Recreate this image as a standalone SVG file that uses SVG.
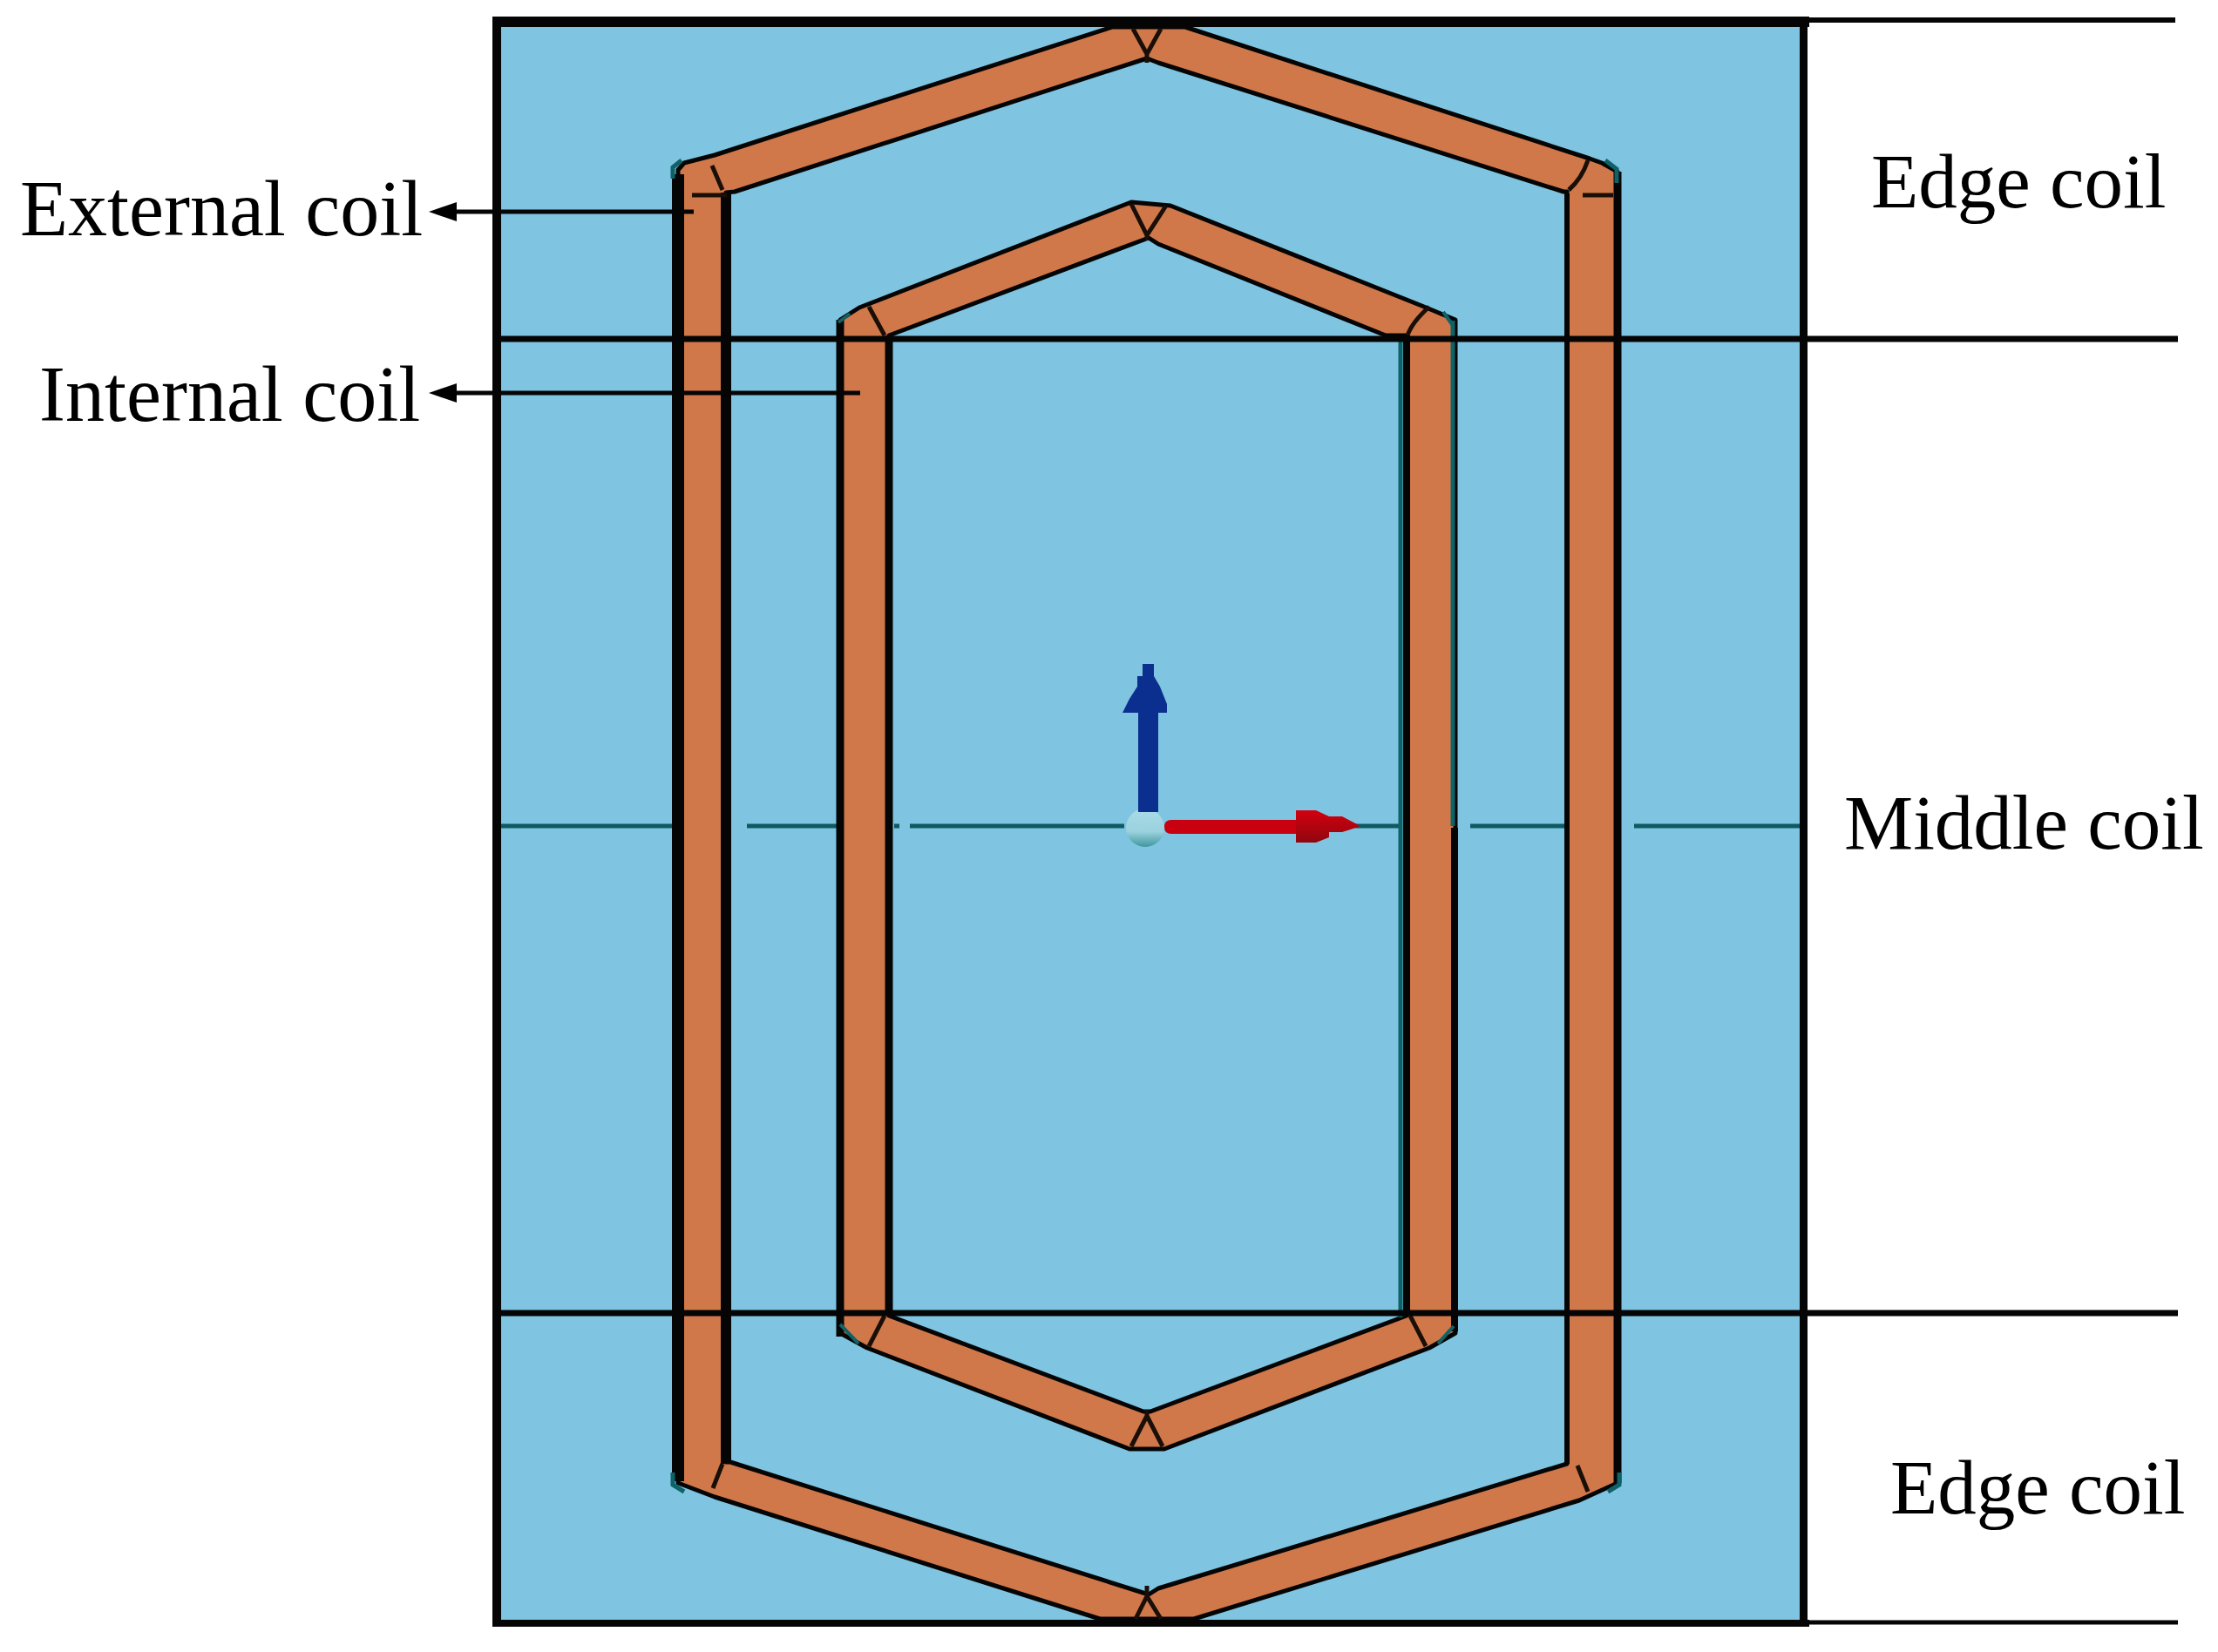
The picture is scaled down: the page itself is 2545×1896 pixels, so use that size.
<svg xmlns="http://www.w3.org/2000/svg" width="2545" height="1896" viewBox="0 0 2545 1896">
<style>
.t{font-family:"Liberation Serif","Times New Roman",serif;font-size:89px;fill:#000}
.tl{font-size:90px}
.ring{fill:#d0784a;fill-rule:evenodd;stroke:#050505;stroke-width:5;stroke-linejoin:round}
.k{stroke:#050505;fill:none;stroke-linecap:butt}
.j{stroke:#1a0f08;stroke-width:5;fill:none}
.teal{stroke:#0f6268;fill:none}
.cl{stroke:#0d5a60;stroke-width:5;fill:none}
</style>
<defs>
<marker id="ah" markerUnits="userSpaceOnUse" markerWidth="32" markerHeight="24" refX="0" refY="11" orient="auto"><path d="M0,0 L32,11 L0,22 Z" fill="#000"/></marker>
<linearGradient id="ball" x1="0" y1="0" x2="0" y2="1"><stop offset="0" stop-color="#a9dbe6"/><stop offset="0.6" stop-color="#9ad2de"/><stop offset="1" stop-color="#3f979d"/></linearGradient>
<linearGradient id="redhead" x1="0" y1="0" x2="0" y2="1"><stop offset="0" stop-color="#d3000f"/><stop offset="1" stop-color="#8f0710"/></linearGradient>
</defs>
<rect width="2545" height="1896" fill="#fff"/>
<g id="frame">
<rect x="570" y="25" width="1501" height="1838" fill="#7fc4e0"/>
<g id="center-line">
<path class="cl" d="M575,948H775M826,948H834M857,948H962M1026,948H1032M1044,948H1290M1555,948H1609M1687,948H1797M1875,948H2066"/>
</g>
</g>
<g id="external-coil">
<path class="ring" d="M778,195 L785,187 L820,178 L1276,31 L1360,31 L1824,182 L1838,187 L1856,197 L1856,1702 L1812,1722 L1370,1858 L1262,1858 L820,1718 L778,1702 Z M833,221 L843,220 L1316,67 L1329,72 L1794,220 L1798,220 L1798,1680 L1329,1823 L1318,1830 L838,1678 L833,1678 Z"/>
<path class="k" stroke-width="14" d="M778,200V1700"/>
<path class="k" stroke-width="12" d="M833,221V1680"/>
<path class="k" stroke-width="6" d="M1798,222V1680"/>
<path class="k" stroke-width="9" d="M1856,197V1702"/>
<path class="j" d="M817,190L829,218M1300,33L1316,62L1332,33M1316,62V72M794,224H834M1816,224H1851M1822,184Q1815,205 1800,218M1316,1832L1303,1858M1316,1832L1332,1858M1316,1820V1835M829,1680L818,1708M1810,1682L1822,1712"/>
<path class="teal" stroke-width="5" d="M772,205V192L782,184M1855,210V194L1842,184M772,1690V1704L785,1712M1858,1690V1704L1845,1712"/>
</g>
<g id="internal-coil">
<path class="ring" d="M964,367 L986,353 L1298,232 L1343,236 L1634,352 L1670,367 L1670,1530 L1640,1547 L1336,1663 L1296,1663 L995,1547 L964,1530 Z M1020,385 L1318,273 L1329,280 L1590,385 L1614,385 L1614,1510 L1320,1620 L1312,1620 L1020,1510 Z"/>
<path class="k" stroke-width="9" d="M964,367V1534"/>
<path class="k" stroke-width="9" d="M1020,385V1510"/>
<path class="k" stroke-width="8" d="M1614,385V1510"/>
<path class="k" stroke-width="8" d="M1669,950V1528"/>
<path class="teal" stroke-width="5" d="M1607,388V1512M1667,368V948"/>
<path class="j" d="M997,352L1015,385M1298,234L1316,270L1338,236M1316,268V276M1640,352Q1620,370 1615,385M1015,1510L997,1545M1316,1625L1298,1660M1316,1625L1334,1660M1316,1618V1628M1618,1510L1636,1545"/>
<path class="teal" stroke-width="4" d="M962,370L975,360M1668,375L1656,358M964,1520L985,1542M1668,1522L1650,1542"/>
</g>
<g id="axes">
<circle cx="1314" cy="950" r="22" fill="url(#ball)"/>
<path fill="#0a2f8f" d="M1306,932V818H1288L1296,802L1305,788V776L1311,776V762H1324V776L1331,788L1339,808V818H1329V932Z"/>
<path fill="#c8000f" d="M1336,949Q1336,941 1344,941H1490V957H1344Q1336,957 1336,949Z"/>
<path fill="url(#redhead)" d="M1487,930H1510L1525,937H1540L1559,947V949L1540,955H1525V961L1510,967H1487Z"/>
</g>
<g id="connectors">
<path class="k" stroke-width="6" d="M2071,23H2496"/>
<path class="k" stroke-width="7" d="M570,389H2499"/>
<path class="k" stroke-width="7" d="M570,1507H2499"/>
<path class="k" stroke-width="5" d="M2071,1862H2499"/>
<path class="k" stroke-width="5" d="M796,243H524" marker-end="url(#ah)" id="arrow-external"/>
<path class="k" stroke-width="5" d="M987,451H524" marker-end="url(#ah)" id="arrow-internal"/>
</g>
<g id="frame-border" fill="#050505">
<rect x="565" y="19" width="1511" height="12"/>
<rect x="565" y="19" width="10" height="1848"/>
<rect x="2065" y="19" width="9" height="1848"/>
<rect x="565" y="1859" width="1511" height="8"/>
</g>
<g id="label-external"><text class="t tl" x="23" y="270">External coil</text></g>
<g id="label-internal"><text class="t tl" x="45" y="483">Internal coil</text></g>
<g id="label-edge-top"><text class="t" x="2147" y="238">Edge coil</text></g>
<g id="label-middle"><text class="t" x="2116" y="974">Middle coil</text></g>
<g id="label-edge-bottom"><text class="t" x="2169" y="1737">Edge coil</text></g>
</svg>
